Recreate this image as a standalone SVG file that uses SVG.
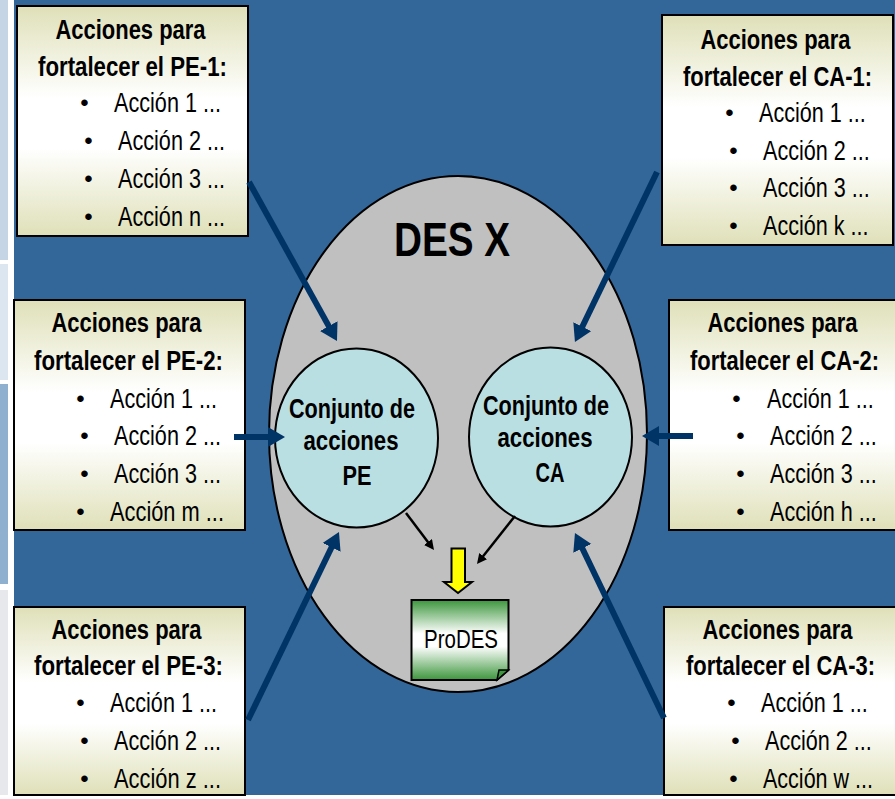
<svg xmlns="http://www.w3.org/2000/svg" width="895" height="799" viewBox="0 0 895 799">
<defs>
<linearGradient id="cream" x1="0" y1="0" x2="0" y2="1"><stop offset="0" stop-color="#dfe0b8"/><stop offset="0.4" stop-color="#ffffff"/><stop offset="0.62" stop-color="#ffffff"/><stop offset="1" stop-color="#dfe0b8"/></linearGradient>
<linearGradient id="green" x1="0" y1="0" x2="0" y2="1"><stop offset="0" stop-color="#3c963c"/><stop offset="0.42" stop-color="#ffffff"/><stop offset="0.58" stop-color="#ffffff"/><stop offset="1" stop-color="#3c963c"/></linearGradient>
<marker id="navy" markerUnits="userSpaceOnUse" markerWidth="20" markerHeight="22" refX="4" refY="10" orient="auto"><path d="M0 0L17 10L0 20Z" fill="#003366"/></marker>
<marker id="blk" markerUnits="userSpaceOnUse" markerWidth="14" markerHeight="14" refX="3" refY="5" orient="auto"><path d="M0 0L10 5L0 10Z" fill="#000"/></marker>
</defs>
<style>
text{font-family:"Liberation Sans",Arial,sans-serif;fill:#000}
.box{fill:url(#cream);stroke:#000;stroke-width:2}
.h{font-size:27px;font-weight:bold;text-anchor:middle}
.a{font-size:27px}
.b{font-size:24px;transform:translate(-.7px,.5px)}
.c{font-size:27px;font-weight:bold;text-anchor:middle}
.n{fill:none;stroke:#003366;stroke-width:6;marker-end:url(#navy)}
.k{fill:none;stroke:#000;stroke-width:2.5;marker-end:url(#blk)}
</style>
<rect width="895" height="799" fill="#ffffff"/>
<rect x="0" y="0" width="8" height="260" fill="#c5d5e6"/>
<rect x="0" y="264" width="8" height="116" fill="#dce6f0"/>
<rect x="0" y="384" width="8" height="200" fill="#8fb0cf"/>
<rect x="0" y="590" width="8" height="205" fill="#e6e8ec"/>
<rect x="14" y="0" width="881" height="795" fill="#336699"/>

<g id="des">
<ellipse cx="458" cy="434" rx="189" ry="258" fill="#c0c0c0" stroke="#000" stroke-width="2"/>
<text x="452" y="256" font-size="48" font-weight="bold" text-anchor="middle" textLength="116" lengthAdjust="spacingAndGlyphs">DES X</text>
</g>

<g id="conjunto-pe">
<ellipse cx="356.500" cy="438" rx="81.500" ry="89.500" fill="#b9dfe3" stroke="#000" stroke-width="2"/>
<text class="c" x="352" y="418" textLength="126" lengthAdjust="spacingAndGlyphs">Conjunto de</text>
<text class="c" x="351" y="450" textLength="95" lengthAdjust="spacingAndGlyphs">acciones</text>
<text class="c" x="357" y="485" textLength="29" lengthAdjust="spacingAndGlyphs">PE</text>
</g>
<g id="conjunto-ca">
<ellipse cx="550.500" cy="437" rx="81.500" ry="89.500" fill="#b9dfe3" stroke="#000" stroke-width="2"/>
<text class="c" x="546" y="415" textLength="126" lengthAdjust="spacingAndGlyphs">Conjunto de</text>
<text class="c" x="545" y="447" textLength="95" lengthAdjust="spacingAndGlyphs">acciones</text>
<text class="c" x="550" y="482" textLength="29" lengthAdjust="spacingAndGlyphs">CA</text>
</g>

<g id="prodes">
<path d="M411.500 600H508.500V670L497 680H411.500Z" fill="url(#green)" stroke="#000" stroke-width="2"/>
<path d="M497 680L499 670H508.500Z" fill="#3c963c" stroke="#000" stroke-width="1.500"/>
<text x="424" y="648" font-size="26" textLength="74" lengthAdjust="spacingAndGlyphs">ProDES</text>
</g>

<g id="yellow-arrow">
<path d="M451.500 548.500H465V582H472L458 593L444 582H451.500Z" fill="#ffff00" stroke="#000" stroke-width="2"/>
</g>

<g id="pe-1">
<rect class="box" x="17" y="6" width="231" height="230"/>
<text class="h" x="130.500" y="39" textLength="150" lengthAdjust="spacingAndGlyphs">Acciones para</text>
<text class="h" x="132.500" y="76" textLength="189" lengthAdjust="spacingAndGlyphs">fortalecer el PE-1:</text>
<text class="b" x="81" y="110">•</text><text class="a" x="114" y="112" textLength="107" lengthAdjust="spacingAndGlyphs">Acción 1 ...</text>
<text class="b" x="85" y="148">•</text><text class="a" x="118" y="150" textLength="107" lengthAdjust="spacingAndGlyphs">Acción 2 ...</text>
<text class="b" x="85" y="186">•</text><text class="a" x="118" y="188" textLength="107" lengthAdjust="spacingAndGlyphs">Acción 3 ...</text>
<text class="b" x="85" y="224">•</text><text class="a" x="118" y="226" textLength="107" lengthAdjust="spacingAndGlyphs">Acción n ...</text>
</g>
<g id="pe-2">
<rect class="box" x="14" y="300" width="231" height="230"/>
<text class="h" x="126.500" y="332" textLength="150" lengthAdjust="spacingAndGlyphs">Acciones para</text>
<text class="h" x="128.500" y="370" textLength="189" lengthAdjust="spacingAndGlyphs">fortalecer el PE-2:</text>
<text class="b" x="77" y="406">•</text><text class="a" x="110" y="408" textLength="107" lengthAdjust="spacingAndGlyphs">Acción 1 ...</text>
<text class="b" x="81" y="443">•</text><text class="a" x="114" y="445" textLength="107" lengthAdjust="spacingAndGlyphs">Acción 2 ...</text>
<text class="b" x="81" y="481">•</text><text class="a" x="114" y="483" textLength="107" lengthAdjust="spacingAndGlyphs">Acción 3 ...</text>
<text class="b" x="77" y="519">•</text><text class="a" x="110" y="521" textLength="114" lengthAdjust="spacingAndGlyphs">Acción m ...</text>
</g>
<g id="pe-3">
<rect class="box" x="14" y="607" width="231" height="188"/>
<text class="h" x="126.500" y="639" textLength="150" lengthAdjust="spacingAndGlyphs">Acciones para</text>
<text class="h" x="128.500" y="675" textLength="189" lengthAdjust="spacingAndGlyphs">fortalecer el PE-3:</text>
<text class="b" x="77" y="710">•</text><text class="a" x="110" y="712" textLength="107" lengthAdjust="spacingAndGlyphs">Acción 1 ...</text>
<text class="b" x="81" y="748">•</text><text class="a" x="114" y="750" textLength="107" lengthAdjust="spacingAndGlyphs">Acción 2 ...</text>
<text class="b" x="81" y="786">•</text><text class="a" x="114" y="788" textLength="107" lengthAdjust="spacingAndGlyphs">Acción z ...</text>
</g>
<g id="ca-1">
<rect class="box" x="662" y="15" width="231" height="230"/>
<text class="h" x="775.500" y="49" textLength="150" lengthAdjust="spacingAndGlyphs">Acciones para</text>
<text class="h" transform="translate(777.500 86) scale(.813 1)">fortalecer el CA-1:</text>
<text class="b" x="726" y="120">•</text><text class="a" transform="translate(759 122) scale(.8 1)">Acción 1 ...</text>
<text class="b" x="730" y="158">•</text><text class="a" transform="translate(763 160) scale(.8 1)">Acción 2 ...</text>
<text class="b" x="730" y="195">•</text><text class="a" transform="translate(763 197) scale(.8 1)">Acción 3 ...</text>
<text class="b" x="730" y="233">•</text><text class="a" transform="translate(763 235) scale(.8 1)">Acción k ...</text>
</g>
<g id="ca-2">
<rect class="box" x="669" y="300" width="231" height="230"/>
<text class="h" x="782.500" y="332" textLength="150" lengthAdjust="spacingAndGlyphs">Acciones para</text>
<text class="h" transform="translate(784.500 370) scale(.813 1)">fortalecer el CA-2:</text>
<text class="b" x="733" y="406">•</text><text class="a" transform="translate(767 408) scale(.8 1)">Acción 1 ...</text>
<text class="b" x="737" y="443">•</text><text class="a" transform="translate(770 445) scale(.8 1)">Acción 2 ...</text>
<text class="b" x="737" y="481">•</text><text class="a" transform="translate(770 483) scale(.8 1)">Acción 3 ...</text>
<text class="b" x="737" y="519">•</text><text class="a" transform="translate(770 521) scale(.8 1)">Acción h ...</text>
</g>
<g id="ca-3">
<rect class="box" x="664" y="607" width="236" height="188"/>
<text class="h" x="777.500" y="639" textLength="150" lengthAdjust="spacingAndGlyphs">Acciones para</text>
<text class="h" transform="translate(780.500 675) scale(.813 1)">fortalecer el CA-3:</text>
<text class="b" x="728" y="710">•</text><text class="a" transform="translate(761 712) scale(.8 1)">Acción 1 ...</text>
<text class="b" x="732" y="748">•</text><text class="a" transform="translate(765 750) scale(.8 1)">Acción 2 ...</text>
<text class="b" x="730" y="786">•</text><text class="a" transform="translate(763 788) scale(.797 1)">Acción w ...</text>
</g>

<g id="connectors">
<path class="n" d="M249 182L330.700 329.600"/>
<path class="n" d="M234 437H272"/>
<path class="n" d="M248 720L333.300 543.700"/>
<path class="n" d="M657 172L580.600 330.300"/>
<path class="n" d="M693 436H655"/>
<path class="n" d="M664 718L580.600 544.700"/>
<path class="k" d="M406 513L429.800 544.400"/>
<path class="k" d="M515 516L481.300 558.500"/>
</g>
</svg>
